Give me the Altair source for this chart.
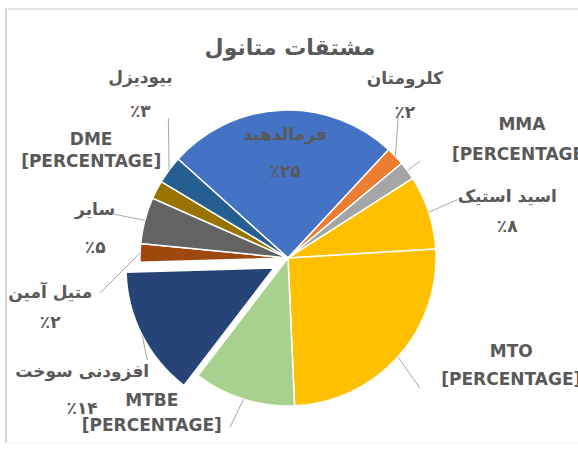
import math
import altair as alt
import pandas as pd

# ---------------- data ----------------
names = ["فرمالدهید", "کلرومتان", "MMA", "اسید استیک", "MTO", "MTBE",
         "افزودنی سوخت", "متیل آمین", "سایر", "DME", "بیودیزل"]
values = [25, 2, 2, 8, 25, 11, 14, 2, 5, 2, 3]
pct_text = ["٪۲۵", "٪۲", "[PERCENTAGE]", "٪۸", "[PERCENTAGE]", "[PERCENTAGE]",
            "٪۱۴", "٪۲", "٪۵", "[PERCENTAGE]", "٪۳"]
title_text = "مشتقات متانول"

# ---------------- style / layout ----------------
colors = ["#4472C4", "#ED7D31", "#A5A5A5", "#FFC000", "#FFC000", "#A9D18E",
          "#264478", "#9E480E", "#636363", "#997300", "#255E91"]
CX, CY, R = 288, 258, 148
START = -48  # degrees, clockwise from 12 o'clock
explode_dx = [0, 0, 0, 0, 0, 0, -14, 0, 0, 0, 0]
explode_dy = [0, 0, 0, 0, 0, 0, 10, 0, 0, 0, 0]
label_turn = [1, -10.8, 9.4, 6.1, -16.2, 23.7, -5.75, -13.9, -6.2, 1.05, 11.3]
label_dist = [105, 200, 262, 224, 248, 207, 245, 243, 195, 224, 220]
line_gap = [37, 34, 30, 30, 28, 25, 37, 30, 38, 22, 34]
leader_turn = [0, -8.55, -0.1, -1, 2.6, 1.45, -8.9, -12.5, -0.7, 0, 12.9]
leader_dist = [0, 179, 164, 179, 185, 179, 174, 191, 186, 0, 184]

TEXT_COLOR = "#595959"
FONT = "DejaVu Sans"
FS = 17

df = pd.DataFrame({
    "order": list(range(len(names))),
    "name": names,
    "value": values,
    "pct": pct_text,
    "ex": explode_dx,
    "ey": explode_dy,
    "lturn": label_turn,
    "ldist": label_dist,
    "gap": line_gap,
    "kturn": leader_turn,
    "kdist": leader_dist,
})

start_rad = math.radians(START)

pie = alt.Chart(df).transform_calculate(
    ax=f"{CX} + datum.ex", ay=f"{CY} + datum.ey"
).mark_arc(radius=R, stroke="white", strokeWidth=1.5).encode(
    theta=alt.Theta("value:Q", stack=True,
                    scale=alt.Scale(range=[start_rad, start_rad + 2 * math.pi])),
    order=alt.Order("order:Q"),
    color=alt.Color("name:N", scale=alt.Scale(domain=names, range=colors), legend=None),
    x=alt.X("ax:Q", scale=None, axis=None),
    y=alt.Y("ay:Q", scale=None, axis=None),
)

base = alt.Chart(df).transform_window(
    cum="sum(value)", sort=[alt.SortField("order")], frame=[None, 0]
).transform_joinaggregate(
    total="sum(value)"
).transform_calculate(
    mid=f"(datum.cum - datum.value / 2) / datum.total * 360 + ({START})"
).transform_calculate(
    la="(datum.mid + datum.lturn) * PI / 180",
    ka="(datum.mid + datum.kturn) * PI / 180",
    ma="datum.mid * PI / 180",
).transform_calculate(
    lx=f"{CX} + datum.ldist * sin(datum.la)",
    ly=f"{CY} - datum.ldist * cos(datum.la)",
    sx=f"{CX} + datum.ex + {R} * sin(datum.ma)",
    sy=f"{CY} + datum.ey - {R} * cos(datum.ma)",
    tx=f"{CX} + datum.kdist * sin(datum.ka)",
    ty=f"{CY} - datum.kdist * cos(datum.ka)",
).transform_calculate(
    ny="datum.ly - datum.gap / 2",
    vy="datum.ly + datum.gap / 2",
)

leaders = base.transform_filter("datum.kdist > 0").mark_rule(
    color="#A6A6A6", strokeWidth=1
).encode(
    x=alt.X("sx:Q", scale=None, axis=None),
    y=alt.Y("sy:Q", scale=None, axis=None),
    x2="tx:Q",
    y2="ty:Q",
)

name_text = base.mark_text(
    font=FONT, fontSize=FS, fontWeight="bold", color=TEXT_COLOR,
    align="center", baseline="middle"
).encode(
    x=alt.X("lx:Q", scale=None, axis=None),
    y=alt.Y("ny:Q", scale=None, axis=None),
    text="name:N",
)

value_text = base.mark_text(
    font=FONT, fontSize=FS, fontWeight="bold", color=TEXT_COLOR,
    align="center", baseline="middle"
).encode(
    x=alt.X("lx:Q", scale=None, axis=None),
    y=alt.Y("vy:Q", scale=None, axis=None),
    text="pct:N",
)

one = pd.DataFrame({"t": [title_text]})
title = alt.Chart(one).mark_text(
    font=FONT, fontSize=22, fontWeight="bold", color=TEXT_COLOR,
    align="center", baseline="middle"
).encode(x=alt.value(290), y=alt.value(48), text="t:N")

border_left = alt.Chart(one).mark_rule(color="#D4D4D4", strokeWidth=2).encode(
    x=alt.value(6), y=alt.value(8), y2=alt.value(443))
border_top = alt.Chart(one).mark_rule(color="#E6E6E6", strokeWidth=2).encode(
    x=alt.value(6), x2=alt.value(578), y=alt.value(9))
border_bottom = alt.Chart(one).mark_rule(color="#EDEDED", strokeWidth=1).encode(
    x=alt.value(6), x2=alt.value(578), y=alt.value(443))

chart = alt.layer(
    border_left, border_top, border_bottom, pie, leaders, name_text, value_text, title
).properties(
    width=578, height=455,
    autosize=alt.AutoSizeParams(type="none"),
    padding=0,
    background="white",
).configure_view(stroke=None)

chart.save("out.html", embed_options={"renderer": "svg", "actions": False})
